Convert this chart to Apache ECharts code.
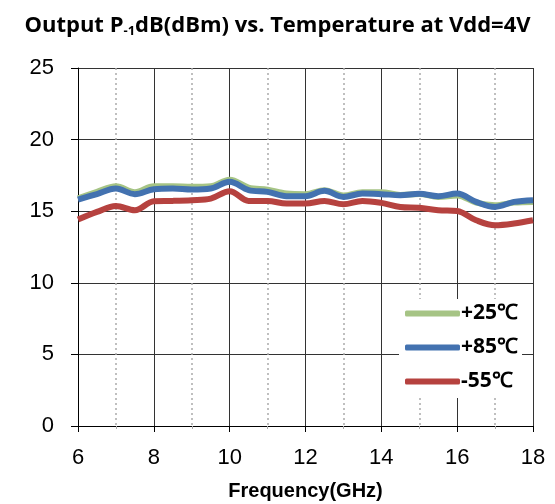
<!DOCTYPE html>
<html><head><meta charset="utf-8">
<script src="https://cdn.jsdelivr.net/npm/echarts@6/dist/echarts.min.js"></script>
<style>html,body{margin:0;padding:0;background:#fff}#c{width:555px;height:504px}</style>
</head><body><div id="c"></div>
<script>
const freq = [6,6.5,7,7.5,8,8.5,9,9.5,10,10.5,11,11.5,12,12.5,13,13.5,14,14.5,15,15.5,16,16.5,17,17.5,18];
const p25 = [15.9,16.35,16.74,16.33,16.74,16.74,16.7,16.74,17.2,16.65,16.5,16.23,16.19,16.47,16.1,16.33,16.33,16.14,16.2,16.0,16.1,15.6,15.42,15.6,15.65];
const p85 = [15.8,16.2,16.58,16.19,16.53,16.58,16.51,16.58,17.05,16.47,16.35,16.05,16.05,16.42,16.0,16.23,16.19,16.12,16.22,16.05,16.23,15.65,15.3,15.65,15.77];
const m55 = [14.42,14.95,15.37,15.07,15.7,15.72,15.77,15.88,16.4,15.72,15.72,15.53,15.53,15.72,15.49,15.72,15.58,15.3,15.24,15.07,15.02,14.37,14.02,14.14,14.37];
const seriesNames = ['+25℃','+85℃','-55℃'];
const colors = ['#A6C485','#4372B0','#B6423F'];
const xTicks = {min:6, max:18, interval:2};
const yTicks = {min:0, max:25, interval:5};

const pairs = arr => freq.map((f,i)=>[f,arr[i]]);
const chart = echarts.init(document.getElementById('c'));
chart.setOption({
  animation:false,
  title:{
    text:'{a|Output P}{s|-1}{a|dB(dBm) vs. Temperature at Vdd=4V}',
    left:'center', top:8,
    textStyle:{rich:{
      a:{fontFamily:'Open Sans',fontWeight:'bold',fontSize:22,color:'#000'},
      s:{fontFamily:'Open Sans',fontWeight:'bold',fontSize:13,color:'#000',verticalAlign:'bottom',padding:[12,0,0,0]}
    }}
  },
  grid:{left:78, right:22, top:68, bottom:78, containLabel:false, outerBoundsMode:'none'},
  xAxis:{
    type:'value', min:xTicks.min, max:xTicks.max, interval:xTicks.interval,
    name:'Frequency(GHz)', nameLocation:'middle', nameGap:55,
    nameTextStyle:{fontFamily:'Liberation Sans',fontWeight:'bold',fontSize:20,color:'#000'},
    axisLine:{show:true,lineStyle:{color:'#000',width:1}},
    axisTick:{show:true,length:6,lineStyle:{color:'#000'}},
    minorTick:{show:true,splitNumber:2,length:3,lineStyle:{color:'#aaa'}},
    axisLabel:{fontFamily:'Liberation Sans',fontSize:22,color:'#000',margin:21},
    splitLine:{show:true,lineStyle:{color:'#333',width:1}},
    minorSplitLine:{show:true,lineStyle:{color:'#aaa',type:[2,3],width:1.5}}
  },
  yAxis:{
    type:'value', min:yTicks.min, max:yTicks.max, interval:yTicks.interval,
    axisLine:{show:true,lineStyle:{color:'#000',width:1}},
    axisTick:{show:true,length:7,lineStyle:{color:'#000'}},
    axisLabel:{fontFamily:'Liberation Sans',fontSize:22,color:'#000',margin:24},
    splitLine:{show:true,lineStyle:{color:'#333',width:1}}
  },
  legend:{
    orient:'vertical', left:399, top:299,
    backgroundColor:'#fff', padding:[4,4,6,6],
    itemWidth:55, itemHeight:6, itemGap:13,
    icon:'roundRect',
    textStyle:{fontFamily:'Open Sans',fontWeight:'bold',fontSize:21,color:'#000',padding:[0,0,0,-4]},
    data:seriesNames
  },
  series:[p25,p85,m55].map((arr,i)=>({
    name:seriesNames[i], type:'line', data:pairs(arr), smooth:0.35, symbol:'none',
    lineStyle:{color:colors[i],width:6}, itemStyle:{color:colors[i]}
  }))
});
</script></body></html>
